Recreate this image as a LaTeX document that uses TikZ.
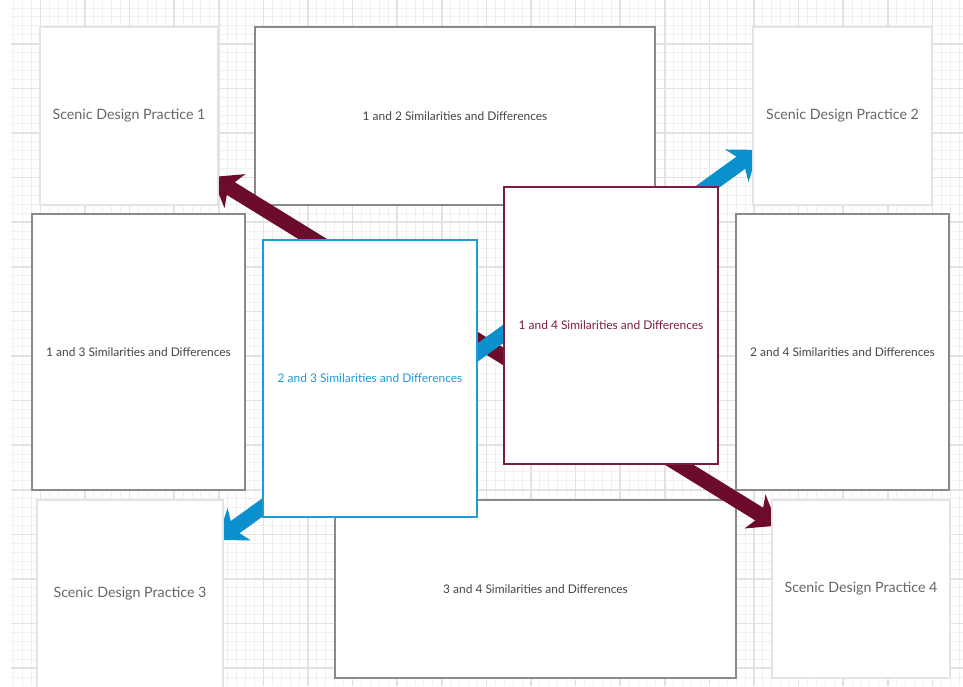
\documentclass[tikz,border=0pt]{standalone}
\usepackage{fontspec}
\setmainfont{Lato}
\usetikzlibrary{arrows.meta}
\definecolor{gridminor}{HTML}{F0F0F0}
\definecolor{gridmajor}{HTML}{E2E2E2}
\definecolor{boxgray}{HTML}{8A8A8A}
\definecolor{palegray}{HTML}{E4E4E4}
\definecolor{labelgray}{HTML}{666666}
\definecolor{simgray}{HTML}{454545}
\definecolor{maroonfill}{HTML}{6C0B2B}
\definecolor{maroonline}{HTML}{7C1D40}
\definecolor{bluefill}{HTML}{0A91CD}
\definecolor{blueline}{HTML}{1F9BD7}
\pgfdeclarelayer{bg}
\pgfdeclarelayer{lower}
\pgfdeclarelayer{links}
\pgfsetlayers{bg,lower,links,main}
\begin{document}
\begin{tikzpicture}[x=1pt, y=-1pt,
    box/.style={rectangle, outer sep=0pt, fill=white, align=center},
    practice/.style={box, draw=palegray, line width=2.5pt, text=labelgray,
      minimum width=178pt, minimum height=178pt, font=\fontsize{14.25}{17}\selectfont},
    compare/.style={box, draw=boxgray, line width=2pt, text=simgray,
      font=\fontsize{11.95}{14}\selectfont},
    link/.style={line width=15pt, >={Stealth[length=27pt, width=40pt, inset=8pt, line width=0pt]},
      <->, shorten <=-7pt, shorten >=-7pt}]
  \useasboundingbox (0,0) rectangle (963,686);

  % grid paper
  \begin{pgfonlayer}{bg}
    \fill[white] (0,0) rectangle (963,686);
    \foreach \k in {-3,...,103}
      \draw[gridminor, line width=1pt] ({40.4+\k*8.92},0) -- ({40.4+\k*8.92},686);
    \foreach \k in {-4,...,71}
      \draw[gridminor, line width=1pt] (11,{43.7+\k*8.92}) -- (963,{43.7+\k*8.92});
    \foreach \k in {0,...,20}
      \draw[gridmajor, line width=1.6pt] ({40.4+\k*44.6},0) -- ({40.4+\k*44.6},686);
    \foreach \k in {0,...,14}
      \draw[gridmajor, line width=1.6pt] (11,{43.7+\k*44.6}) -- (963,{43.7+\k*44.6});
  \end{pgfonlayer}

  \begin{pgfonlayer}{lower}
    \node[compare, minimum width=400pt, minimum height=178pt] (ab) at (455,116) {1 and 2 Similarities and Differences};
    \node[compare, minimum width=213pt, minimum height=276pt] (ac) at (138.5,352) {1 and 3 Similarities and Differences};
    \node[compare, minimum width=213pt, minimum height=276pt] (bd) at (842.5,352) {2 and 4 Similarities and Differences};
    \node[compare, minimum width=401pt, minimum height=178pt] (cd) at (535.5,589) {3 and 4 Similarities and Differences};
  \end{pgfonlayer}

  \node[practice] (sdpa) at (129,116) {Scenic Design Practice 1};
  \node[practice, minimum width=179pt] (sdpb) at (842.5,116) {Scenic Design Practice 2};
  \node[practice, minimum width=186pt, minimum height=188pt] (sdpc) at (130,594) {Scenic Design Practice 3};
  \node[practice] (sdpd) at (861,589) {Scenic Design Practice 4};

  \node[compare, draw=blueline, text=blueline, minimum width=214pt, minimum height=277pt] (bc) at (370,378.5) {2 and 3 Similarities and Differences};
  \node[compare, draw=maroonline, text=maroonline, minimum width=214pt, minimum height=277pt] (ad) at (611,325.5) {1 and 4 Similarities and Differences};

  \begin{pgfonlayer}{links}
    \draw[link, maroonfill] (sdpa.-36) -- (sdpd.143);
    \draw[link, bluefill] (sdpc.32) -- (sdpb.203);
  \end{pgfonlayer}
\end{tikzpicture}
\end{document}
